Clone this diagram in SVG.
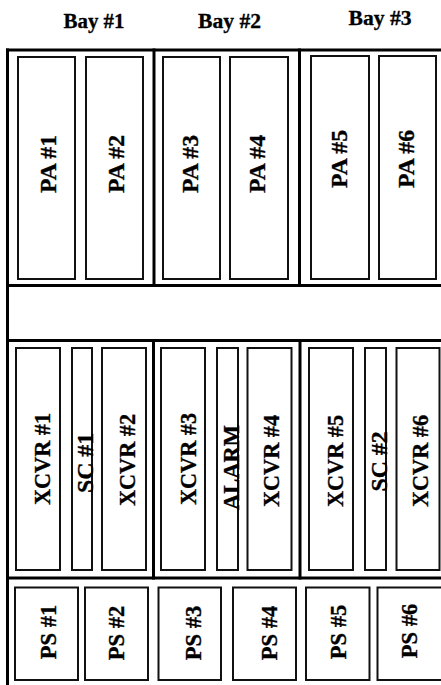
<svg xmlns="http://www.w3.org/2000/svg" width="441" height="685" viewBox="0 0 441 685">
<style>
.bg{fill:#fff}
.frame{stroke:#000;stroke-width:3;fill:none;stroke-linecap:square}
.box{fill:#fff;stroke:#111;stroke-width:2}
.lbl{font-family:"Liberation Serif","Times New Roman",serif;font-weight:bold;font-size:23.5px;fill:#000;stroke:#000;stroke-width:0.35;text-anchor:middle}
.bay{font-family:"Liberation Serif","Times New Roman",serif;font-weight:bold;font-size:21px;fill:#000;stroke:#000;stroke-width:0.3;text-anchor:middle}
</style>
<rect class="bg" x="0" y="0" width="441" height="685"/>
<g id="bay-labels">
<text class="bay" x="94" y="27.5" textLength="61" lengthAdjust="spacingAndGlyphs">Bay #1</text>
<text class="bay" x="229.5" y="27.5" textLength="63" lengthAdjust="spacingAndGlyphs">Bay #2</text>
<text class="bay" x="380" y="25" textLength="63" lengthAdjust="spacingAndGlyphs">Bay #3</text>
</g>
<g id="frame">
<line class="frame" x1="7.5" y1="50" x2="442" y2="50"/>
<line class="frame" x1="7.5" y1="50" x2="7.5" y2="686"/>
<line class="frame" x1="7.5" y1="285.5" x2="442" y2="285.5"/>
<line class="frame" x1="7.5" y1="340.5" x2="442" y2="340.5"/>
<line class="frame" x1="7.5" y1="578" x2="442" y2="578"/>
<line class="frame" x1="154" y1="50" x2="154" y2="285.5"/>
<line class="frame" x1="299.5" y1="50" x2="299.5" y2="285.5"/>
<line class="frame" x1="153.5" y1="340.5" x2="153.5" y2="578"/>
<line class="frame" x1="300" y1="340.5" x2="300" y2="578"/>
</g>
<g id="connectors"></g>
<g id="pa1"><rect class="box" x="18" y="57" width="57" height="222"/><text class="lbl" transform="translate(55.5,164) rotate(-90)" textLength="58" lengthAdjust="spacingAndGlyphs">PA #1</text></g>
<g id="pa2"><rect class="box" x="86" y="57" width="57" height="222"/><text class="lbl" transform="translate(123.5,164) rotate(-90)" textLength="58" lengthAdjust="spacingAndGlyphs">PA #2</text></g>
<g id="pa3"><rect class="box" x="163" y="57" width="57" height="222"/><text class="lbl" transform="translate(197.5,164) rotate(-90)" textLength="58" lengthAdjust="spacingAndGlyphs">PA #3</text></g>
<g id="pa4"><rect class="box" x="230" y="57" width="58" height="222"/><text class="lbl" transform="translate(265,164) rotate(-90)" textLength="58" lengthAdjust="spacingAndGlyphs">PA #4</text></g>
<g id="pa5"><rect class="box" x="311" y="56" width="58" height="223"/><text class="lbl" transform="translate(347,159) rotate(-90)" textLength="58" lengthAdjust="spacingAndGlyphs">PA #5</text></g>
<g id="pa6"><rect class="box" x="379" y="56" width="57" height="223"/><text class="lbl" transform="translate(414,159) rotate(-90)" textLength="58" lengthAdjust="spacingAndGlyphs">PA #6</text></g>
<g id="xcvr1"><rect class="box" x="16" y="348" width="44" height="222"/><text class="lbl" transform="translate(50,459) rotate(-90)" textLength="92" lengthAdjust="spacingAndGlyphs">XCVR #1</text></g>
<g id="sc1"><rect class="box" x="72" y="348" width="20" height="222"/><text class="lbl" transform="translate(92.5,463) rotate(-90)" textLength="60" lengthAdjust="spacingAndGlyphs">SC #1</text></g>
<g id="xcvr2"><rect class="box" x="102" y="348" width="44" height="222"/><text class="lbl" transform="translate(135,460) rotate(-90)" textLength="92" lengthAdjust="spacingAndGlyphs">XCVR #2</text></g>
<g id="xcvr3"><rect class="box" x="161" y="348" width="44" height="222"/><text class="lbl" transform="translate(196,459) rotate(-90)" textLength="92" lengthAdjust="spacingAndGlyphs">XCVR #3</text></g>
<g id="alarm"><rect class="box" x="217" y="348" width="21" height="222"/><text class="lbl" transform="translate(238.5,467.5) rotate(-90)" textLength="85" lengthAdjust="spacingAndGlyphs">ALARM</text></g>
<g id="xcvr4"><rect class="box" x="247.5" y="348" width="44" height="222"/><text class="lbl" transform="translate(279,461) rotate(-90)" textLength="92" lengthAdjust="spacingAndGlyphs">XCVR #4</text></g>
<g id="xcvr5"><rect class="box" x="309" y="348" width="44" height="222"/><text class="lbl" transform="translate(343,461) rotate(-90)" textLength="92" lengthAdjust="spacingAndGlyphs">XCVR #5</text></g>
<g id="sc2"><rect class="box" x="365" y="348" width="21" height="222"/><text class="lbl" transform="translate(386.5,461.5) rotate(-90)" textLength="60" lengthAdjust="spacingAndGlyphs">SC #2</text></g>
<g id="xcvr6"><rect class="box" x="396.5" y="348" width="43" height="222"/><text class="lbl" transform="translate(428,461) rotate(-90)" textLength="92" lengthAdjust="spacingAndGlyphs">XCVR #6</text></g>
<g id="ps1"><rect class="box" x="15" y="587.5" width="63" height="92.5"/><text class="lbl" transform="translate(55.5,632) rotate(-90)" textLength="54.5" lengthAdjust="spacingAndGlyphs">PS #1</text></g>
<g id="ps2"><rect class="box" x="85" y="587.5" width="63" height="92.5"/><text class="lbl" transform="translate(123.5,633) rotate(-90)" textLength="54.5" lengthAdjust="spacingAndGlyphs">PS #2</text></g>
<g id="ps3"><rect class="box" x="158.5" y="587.5" width="62.5" height="92.5"/><text class="lbl" transform="translate(200.5,633) rotate(-90)" textLength="54.5" lengthAdjust="spacingAndGlyphs">PS #3</text></g>
<g id="ps4"><rect class="box" x="233" y="587.5" width="63" height="92.5"/><text class="lbl" transform="translate(276.5,633) rotate(-90)" textLength="54.5" lengthAdjust="spacingAndGlyphs">PS #4</text></g>
<g id="ps5"><rect class="box" x="306" y="587.5" width="63.5" height="92.5"/><text class="lbl" transform="translate(346,632) rotate(-90)" textLength="54.5" lengthAdjust="spacingAndGlyphs">PS #5</text></g>
<g id="ps6"><rect class="box" x="377.5" y="587.5" width="70" height="92.5"/><text class="lbl" transform="translate(416.5,631) rotate(-90)" textLength="54.5" lengthAdjust="spacingAndGlyphs">PS #6</text></g>
</svg>
